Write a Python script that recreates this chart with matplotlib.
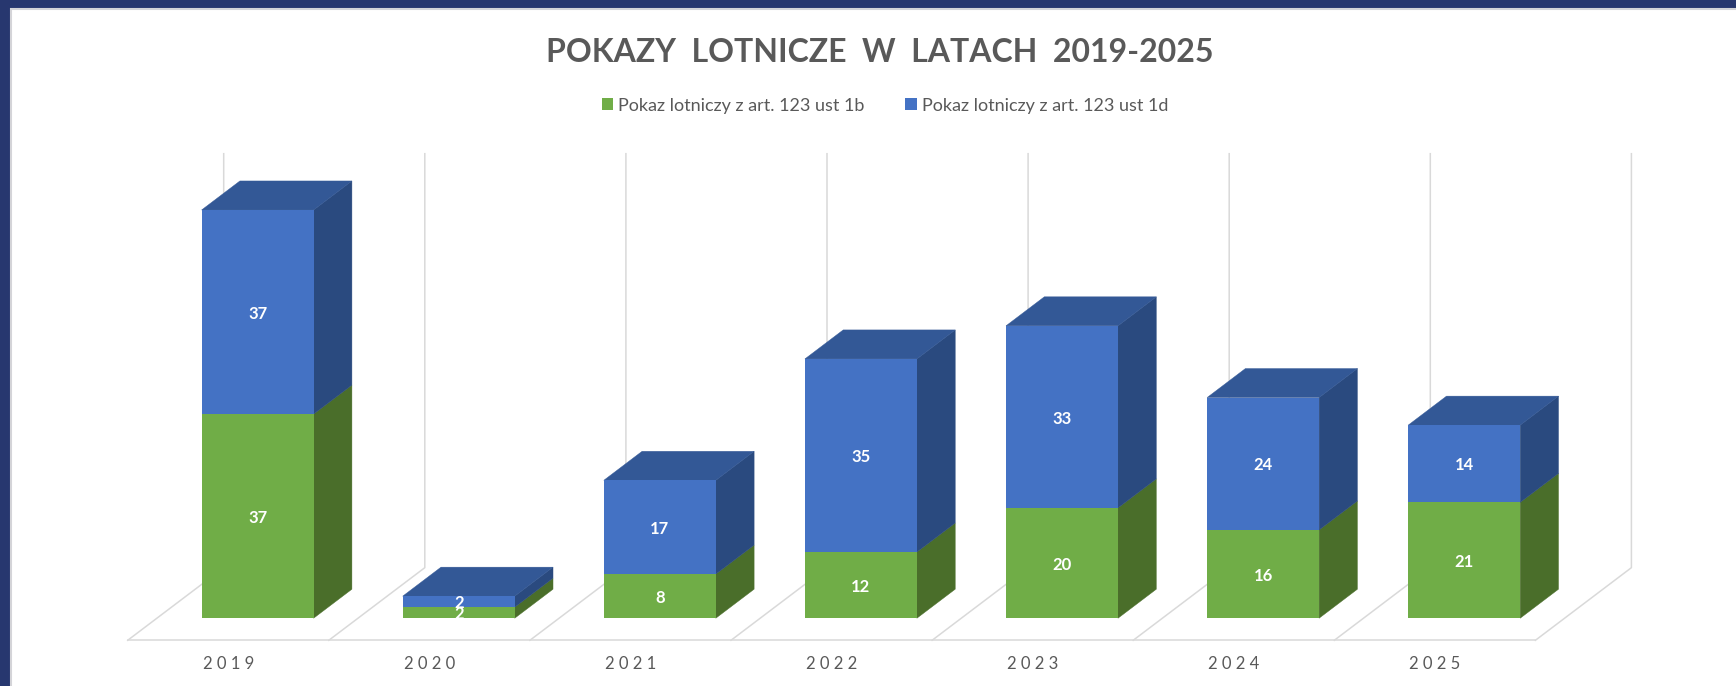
import numpy as np
import matplotlib
matplotlib.use("Agg")
import matplotlib.pyplot as plt
from matplotlib.patches import Polygon, Rectangle

years = ["2019", "2020", "2021", "2022", "2023", "2024", "2025"]
art_1b = [37, 2, 8, 12, 20, 16, 21]
art_1d = [37, 2, 17, 35, 33, 24, 14]
legend_labels = ["Pokaz lotniczy z art. 123 ust 1b", "Pokaz lotniczy z art. 123 ust 1d"]
title = "POKAZY  LOTNICZE  W  LATACH  2019-2025"

GREEN, GREEN_SIDE = "#70AD47", "#4A6E2A"
BLUE, BLUE_SIDE, BLUE_TOP = "#4472C4", "#2A4A7F", "#335896"
GRID = "#D9D9D9"
TEXT = "#595959"

W, H = 1736, 686
plt.rcParams["font.family"] = ["Lato", "DejaVu Sans"]

fig = plt.figure(figsize=(W / 100, H / 100), dpi=100, facecolor="#27376F")
# white panel runs off the right and bottom edges
fig.add_artist(Rectangle((11 / W, -0.02), 1, 1.02 - 9 / H, transform=fig.transFigure,
                         facecolor="white", edgecolor="#D4D4D8", linewidth=1.5, zorder=-1))

# axes box = front edge of the floor up to the top of the walls
ax = fig.add_axes([127.7 / W, 1 - 640.3 / H, 1407.7 / W, (640.3 - 153.7) / H])
ax.patch.set_visible(False)
ax.set_xlim(-0.646, 6.354)
ax.set_ylim(-4, 84.2)

x = np.arange(len(years))
b1 = np.array(art_1b)
b2 = np.array(art_1d)

bar_w = 112 / 201.1
# oblique offsets of the fake 3D: bar depth and floor depth
dx, dy = 38.3 / 201.1, 29 / 5.515
floor_dx, floor_dy = 96 / 201.1, 72.6 / 5.515
left_edge = -0.646

# walls and floor lines
for i in range(len(years) + 1):
    fx = left_edge + i
    ax.plot([fx, fx + floor_dx, fx + floor_dx], [-4, -4 + floor_dy, 84.2],
            color=GRID, lw=1.1, clip_on=False, zorder=1)

# side and top faces
for i in range(len(years)):
    r = x[i] + bar_w / 2
    l = x[i] - bar_w / 2
    top = b1[i] + b2[i]
    ax.add_patch(Polygon([(r, 0), (r + dx, dy), (r + dx, b1[i] + dy), (r, b1[i])],
                         facecolor=GREEN_SIDE, edgecolor=GREEN_SIDE, lw=0.3, clip_on=False, zorder=2))
    ax.add_patch(Polygon([(r, b1[i]), (r + dx, b1[i] + dy), (r + dx, top + dy), (r, top)],
                         facecolor=BLUE_SIDE, edgecolor=BLUE_SIDE, lw=0.3, clip_on=False, zorder=2))
    ax.add_patch(Polygon([(l, top), (l + dx, top + dy), (r + dx, top + dy), (r, top)],
                         facecolor=BLUE_TOP, edgecolor=BLUE_TOP, lw=0.3, clip_on=False, zorder=2))

bars1 = ax.bar(x, b1, width=bar_w, color=GREEN, label=legend_labels[0], zorder=3)
bars2 = ax.bar(x, b2, width=bar_w, bottom=b1, color=BLUE, label=legend_labels[1], zorder=3)

for bars, vals in [(bars1, b1), (bars2, b2)]:
    ax.bar_label(bars, labels=[str(v) for v in vals], label_type="center", padding=-1.2,
                 color="white", fontsize=12, fontweight="bold", zorder=5)

for s in ["top", "left", "right"]:
    ax.spines[s].set_visible(False)
ax.spines["bottom"].set_color(GRID)
ax.spines["bottom"].set_linewidth(1.1)
ax.set_yticks([])
ax.set_xticks(x - 0.146, [" ".join(y) for y in years], fontsize=12, color=TEXT)
ax.tick_params(axis="x", length=0, pad=11)

fig.suptitle(title, x=880 / W, y=1 - 52 / H, va="center", ha="center",
             fontsize=23, fontweight="bold", color=TEXT)

ax.legend(handles=[bars1, bars2], ncols=2, frameon=False, fontsize=13, labelcolor=TEXT,
          loc="center", bbox_to_anchor=(885 / W, 1 - 105.5 / H), bbox_transform=fig.transFigure,
          handlelength=0.62, handleheight=0.62, handletextpad=0.3, columnspacing=2.27)

fig.savefig("out.png", dpi=100, facecolor=fig.get_facecolor())
